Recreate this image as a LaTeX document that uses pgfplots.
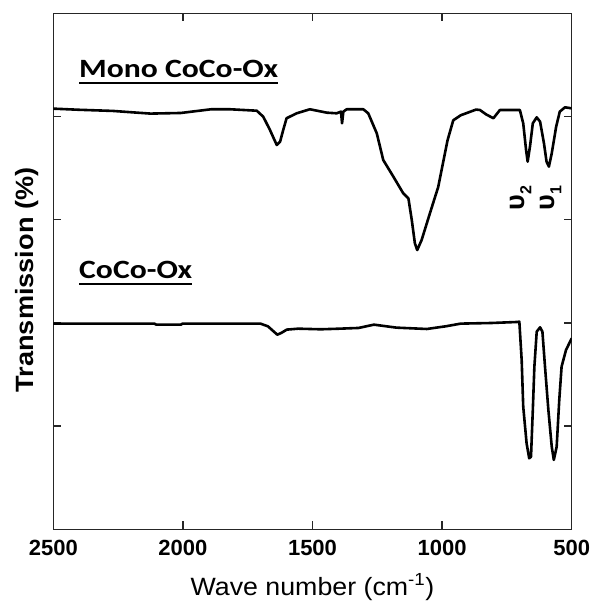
\documentclass[border=0pt]{standalone}
\usepackage{pgfplots}
\pgfplotsset{compat=1.18}
\usepackage{fontspec}
\usepackage{graphicx}
\setmainfont{Liberation Sans}
\newfontfamily\calib{Carlito}

% IR spectra, transmission offset per sample
\pgfplotstableread{
wn    T
2500  4.076
2400  4.065
2271  4.054
2125  4.028
2008  4.034
1891  4.070
1818  4.070
1715  4.056
1690  3.998
1664  3.869
1638  3.724
1625  3.756
1613  3.869
1600  3.983
1561  4.031
1510  4.070
1445  4.037
1407  4.031
1390  4.047
1386  3.934
1381  4.047
1368  4.070
1304  4.070
1285  4.031
1252  3.837
1227  3.578
1188  3.417
1150  3.256
1130  3.207
1117  2.997
1105  2.771
1096  2.706
1079  2.803
1047  3.062
1015  3.317
979   3.769
957   3.963
928   4.012
869   4.067
854   4.063
830   4.020
802   3.983
777   4.063
700   4.063
687   3.934
676   3.675
670   3.562
661   3.708
650   3.934
635   3.992
622   3.950
607   3.740
597   3.562
588   3.514
577   3.643
560   3.901
546   4.047
526   4.089
500   4.079
}\monotab

\pgfplotstableread{
wn    T
2500  1.993
2110  1.993
2103  1.983
2008  1.983
2001  1.993
1701  1.993
1672  1.967
1636  1.886
1621  1.902
1599  1.935
1555  1.944
1468  1.938
1395  1.944
1322  1.951
1263  1.983
1176  1.954
1059  1.941
986   1.967
928   1.993
810   1.999
709   2.009
702   2.012
693   1.640
687   1.188
674   0.833
664   0.688
657   0.703
650   1.156
644   1.576
635   1.915
622   1.957
613   1.915
603   1.576
590   1.156
577   0.800
569   0.672
558   0.800
548   1.253
539   1.576
522   1.737
500   1.851
}\cocotab

\begin{document}
\begin{tikzpicture}
\begin{axis}[
  scale only axis,
  width=518.4pt, height=516pt,
  xmin=500, xmax=2500, ymin=0, ymax=5,
  x dir=reverse,
  xtick={500,1000,1500,2000,2500},
  xticklabels={500,1000,1500,2000,2500},
  ytick={1,2,3,4}, yticklabels={},
  tick pos=both, tick align=inside,
  major tick length=8pt,
  axis line style={line width=1.5pt, black!85},
  every tick/.style={line width=1.3pt, black!85},
  xticklabel style={font=\bfseries\fontsize{22}{22}\selectfont, yshift=-7pt},
]
\addplot[line width=2.6pt, line join=round, black] table[x=wn, y=T] {\monotab};
\addplot[line width=2.6pt, line join=round, black] table[x=wn, y=T] {\cocotab};
\end{axis}

% axis titles
\node[anchor=base, inner sep=0] at (259.2pt,-65.7pt)
  {\scalebox{1.07}[1]{\fontsize{25}{25}\selectfont Wave number (cm\textsuperscript{-1})}};
\node[rotate=90, anchor=base, inner sep=0] at (-20.3pt,249.3pt)
  {\scalebox{1.085}[1]{\bfseries\fontsize{25}{25}\selectfont Transmission (\%)}};

% sample names
\node[anchor=base west, inner sep=0] (m1) at (25.7pt,452pt)
  {\scalebox{1.2}[1]{\calib\bfseries\fontsize{26.4}{26}\selectfont Mono CoCo-Ox}};
\draw[line width=2.5pt] ([yshift=-5.7pt]m1.base west) -- ([yshift=-5.7pt]m1.base east);
\node[anchor=base west, inner sep=0] (m2) at (25.7pt,251pt)
  {\scalebox{1.2}[1]{\calib\bfseries\fontsize{26.4}{26}\selectfont CoCo-Ox}};
\draw[line width=2.5pt] ([yshift=-5.7pt]m2.base west) -- ([yshift=-5.7pt]m2.base east);

% band assignments
\node[rotate=90, inner sep=0] at (467.5pt,331.3pt)
  {\bfseries\fontsize{27}{27}\selectfont υ\raisebox{-0.25em}{\fontsize{16}{16}\selectfont 2}};
\node[rotate=90, inner sep=0] at (497.5pt,331.3pt)
  {\bfseries\fontsize{27}{27}\selectfont υ\raisebox{-0.25em}{\fontsize{16}{16}\selectfont 1}};

\pgfresetboundingbox
\useasboundingbox (-53.3pt,-71.7pt) rectangle (539.7pt,529.3pt);
\end{tikzpicture}
\end{document}
